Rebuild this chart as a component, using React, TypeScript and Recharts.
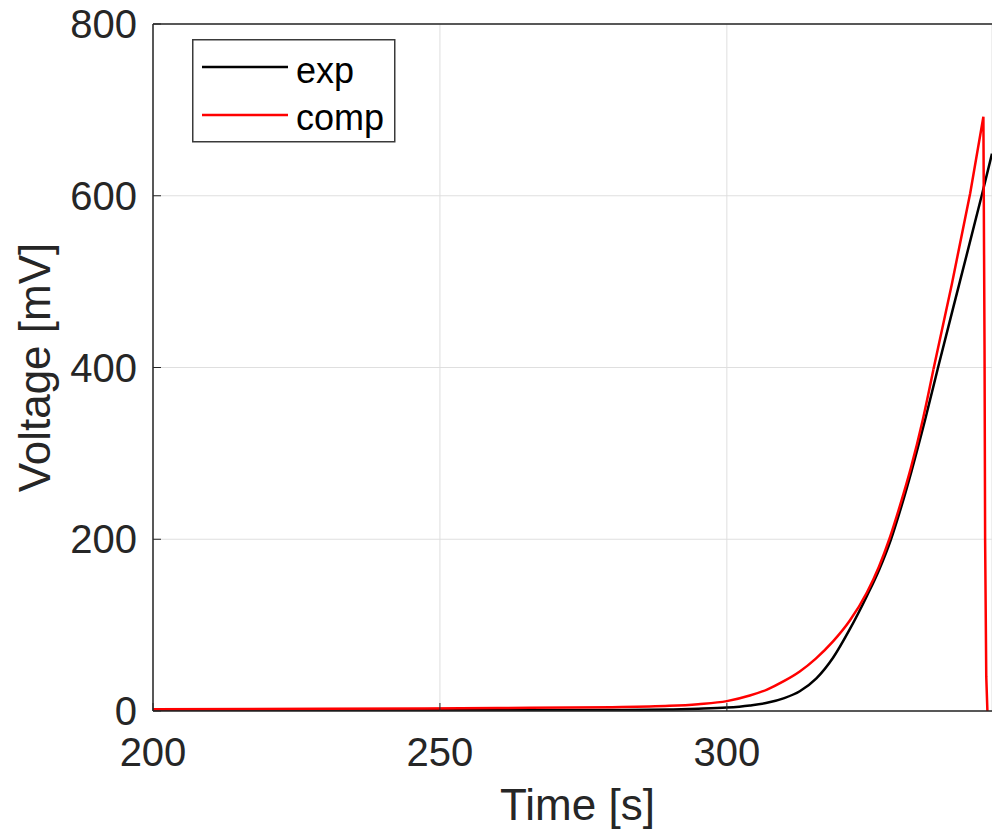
import {
	LineChart,
	Line,
	XAxis,
	YAxis,
	CartesianGrid,
	Legend,
	ReferenceLine,
	Label,
} from 'recharts'

const xTicks = [200, 250, 300]
const yTicks = [0, 200, 400, 600, 800]

const seriesNames = ['exp', 'comp']
const seriesColors = ['#000000', '#ff0000']

// measured curve (exp)
const expTime = [
	200, 230, 260, 280, 290, 295, 300, 304, 307, 310, 312.7, 315.6, 318.5, 321.4,
	324.4, 326.5, 328.6, 330.4, 332.2, 334.5, 336.8, 340.6, 344.4, 346.2,
]
const expVoltage = [
	0.5, 0.6, 0.8, 1.2, 1.8, 2.6, 4, 6.5, 9.5, 15, 23, 38, 62, 95, 134, 164, 200,
	238, 280, 338, 400, 500, 600, 649,
]

// computed curve (comp)
const compTime = [
	200, 230, 260, 280, 290, 295, 300, 304, 307, 310, 312.7, 315.5, 318.5, 321.4,
	324.4, 326.5, 328.3, 330.2, 332.1, 334.1, 336, 339.2, 342.4, 344.7, 344.9,
	345, 345.2, 345.4,
]
const compVoltage = [
	2, 2.5, 3.5, 4.5, 6, 8, 11.5, 18, 25, 35, 46, 61, 81, 105, 138, 168, 200, 240,
	284, 338, 398, 497, 603, 692, 420, 200, 40, 0,
]

const expData = expTime.map((t, i) => ({ t, v: expVoltage[i] }))
const compData = compTime.map((t, i) => ({ t, v: compVoltage[i] }))
// the comp spike (straight rise to the peak and the drop) is drawn without smoothing
const spikeStart = 20
const compRise = compData.slice(0, spikeStart + 1)
const compSpike = compData.slice(spikeStart)

const FONT = '"Liberation Sans", Arial, Helvetica, sans-serif'
const INK = '#262626'

function LegendBox({ payload }: any) {
	const items = [...(payload ?? [])]
		.filter((p: any) => seriesNames.includes(p.value))
		.sort(
			(a: any, b: any) => seriesNames.indexOf(a.value) - seriesNames.indexOf(b.value),
		)
	return (
		<svg width={204} height={104} style={{ display: 'block' }}>
			<rect
				x={0.75}
				y={0.75}
				width={202}
				height={102}
				fill='#fff'
				stroke='#3a3a3a'
				strokeWidth={1.5}
			/>
			{items.map((item: any, i: number) => (
				<g key={item.value}>
					<line
						x1={10}
						x2={96}
						y1={28 + i * 48}
						y2={28 + i * 48}
						stroke={item.color}
						strokeWidth={2.5}
					/>
					<text
						x={104}
						y={44 + i * 47}
						fontSize={36}
						fontFamily={FONT}
						fill='#000'
					>
						{item.value}
					</text>
				</g>
			))}
		</svg>
	)
}

function XTitle(props: any) {
	const vb = props.viewBox ?? { x: 153, width: 839 }
	return (
		<text
			x={vb.x + vb.width / 2 + 5}
			y={820}
			textAnchor='middle'
			fontSize={44}
			fontFamily={FONT}
			fill={INK}
		>
			Time [s]
		</text>
	)
}

function YTitle(props: any) {
	const vb = props.viewBox ?? { y: 24, height: 687 }
	const cx = 50
	const cy = vb.y + vb.height / 2
	return (
		<text
			x={cx}
			y={cy}
			transform={`rotate(-90, ${cx}, ${cy})`}
			textAnchor='middle'
			fontSize={44}
			fontFamily={FONT}
			fill={INK}
		>
			Voltage [mV]
		</text>
	)
}

export default function App() {
	return (
		<div
			style={{
				position: 'absolute',
				left: 0,
				top: 0,
				width: 992,
				height: 834,
				overflow: 'hidden',
				background: '#fff',
			}}
		>
			<LineChart
				width={992}
				height={834}
				margin={{ top: 24, right: 0, bottom: 0, left: 0 }}
			>
				<CartesianGrid stroke='#dfdfdf' strokeWidth={1} />
				<XAxis
					type='number'
					dataKey='t'
					domain={[200, 346.2]}
					ticks={xTicks}
					allowDataOverflow
					height={123}
					tickSize={-8}
					tickMargin={35}
					axisLine={{ stroke: INK, strokeWidth: 1.5 }}
					tickLine={{ stroke: INK, strokeWidth: 1 }}
					tick={{ fill: INK, fontSize: 40, fontFamily: FONT }}
				>
					<Label content={XTitle} />
				</XAxis>
				<YAxis
					type='number'
					dataKey='v'
					domain={[0, 800]}
					ticks={yTicks}
					allowDataOverflow
					width={153}
					tickSize={-8}
					tickMargin={24}
					axisLine={{ stroke: INK, strokeWidth: 1.5 }}
					tickLine={{ stroke: INK, strokeWidth: 1 }}
					tick={{ fill: INK, fontSize: 40, fontFamily: FONT }}
				>
					<Label content={YTitle} />
				</YAxis>
				<ReferenceLine y={800} stroke={INK} strokeWidth={1.5} />
				<Line
					data={expData}
					dataKey='v'
					name={seriesNames[0]}
					type='monotone'
					stroke={seriesColors[0]}
					strokeWidth={2.5}
					dot={false}
					isAnimationActive={false}
				/>
				<Line
					data={compRise}
					dataKey='v'
					name={seriesNames[1]}
					type='monotone'
					stroke={seriesColors[1]}
					strokeWidth={2.5}
					dot={false}
					isAnimationActive={false}
				/>
				<Line
					data={compSpike}
					dataKey='v'
					name='comp-spike'
					legendType='none'
					type='linear'
					stroke={seriesColors[1]}
					strokeWidth={2.5}
					strokeLinejoin='miter'
					dot={false}
					isAnimationActive={false}
				/>
				<Legend
					layout='horizontal'
					verticalAlign='middle'
					content={LegendBox}
					wrapperStyle={{ left: 192, top: 39, width: 204, height: 104 }}
				/>
			</LineChart>
		</div>
	)
}
